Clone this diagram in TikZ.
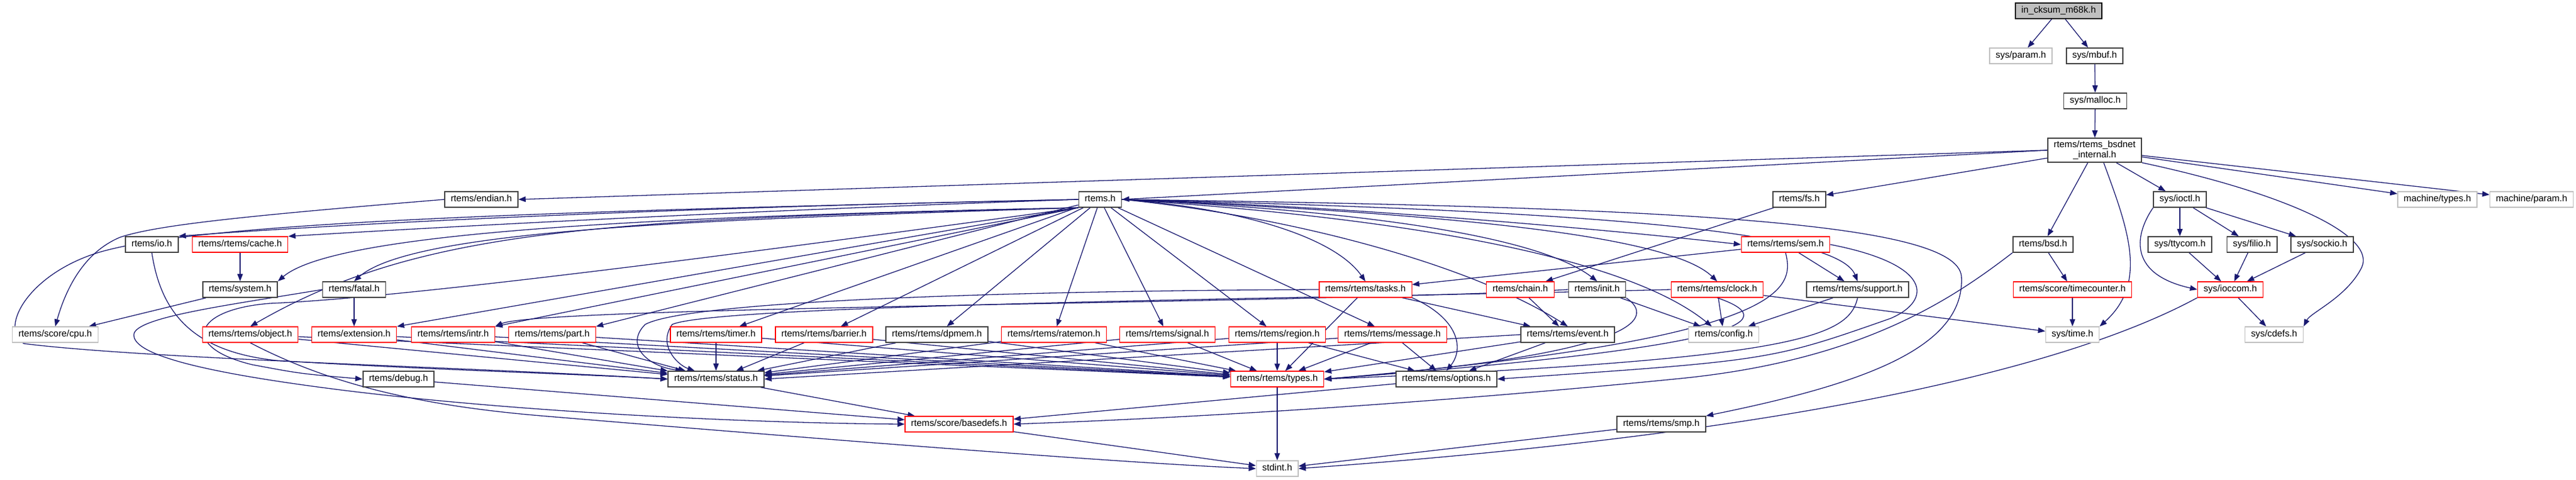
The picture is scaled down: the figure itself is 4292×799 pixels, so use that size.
\documentclass[tikz,border=0pt]{standalone}
\usepackage{fontspec}
\setmainfont{Liberation Sans}
\usetikzlibrary{arrows.meta}
\definecolor{edgec}{HTML}{191970}
\definecolor{grayb}{HTML}{BFBFBF}
\definecolor{darkb}{HTML}{404040}
\pgfdeclarelayer{bg}
\pgfsetlayers{bg,main}
\tikzset{
  box/.style={rectangle, minimum height=26pt, inner xsep=10pt, inner ysep=0pt, fill=white,
    font=\fontsize{15.4}{17}\selectfont, text=black},
  one/.style={text height=11pt, text depth=3.5pt},
  nb/.style={box, one, draw=darkb, line width=1.6pt},
  rd/.style={box, one, draw=red, line width=1.3pt},
  gy/.style={box, one, draw=grayb, line width=1.3pt},
  mainnode/.style={box, one, draw=black, line width=1.6pt, fill=grayb},
  edge/.style={draw=edgec, line width=1.3pt, -{Triangle[length=12pt,width=9pt]}},
}
\begin{document}
\begin{tikzpicture}[x=1pt,y=-1pt]
\useasboundingbox (0,0) rectangle (4292,799);
% ---------- nodes ----------
\node[mainnode] (ick) at (3430,18) {in\_cksum\_m68k.h};
\node[gy] (sparam) at (3367,93) {sys/param.h};
\node[nb] (mbuf) at (3490,93) {sys/mbuf.h};
\node[nb] (malloc) at (3491,168) {sys/malloc.h};
\node[box, draw=darkb, line width=1.6pt, align=center, minimum height=40pt] (bsdnet) at (3490,250) {rtems/rtems\_bsdnet\\\_internal.h};
\node[nb] (endian) at (802,332) {rtems/endian.h};
\node[nb] (rtems) at (1833,332) {rtems.h};
\node[nb] (fs) at (2998,332) {rtems/fs.h};
\node[nb] (ioctl) at (3632,332) {sys/ioctl.h};
\node[gy] (mtypes) at (4061,332) {machine/types.h};
\node[gy] (mparam) at (4218,332) {machine/param.h};
\node[nb] (io) at (253,407) {rtems/io.h};
\node[rd] (cache) at (400,407) {rtems/rtems/cache.h};
\node[rd] (sem) at (2975,407) {rtems/rtems/sem.h};
\node[nb] (bsd) at (3404,407) {rtems/bsd.h};
\node[nb] (ttycom) at (3632,407) {sys/ttycom.h};
\node[nb] (filio) at (3752,407) {sys/filio.h};
\node[nb] (sockio) at (3869,407) {sys/sockio.h};
\node[nb] (system) at (400,482) {rtems/system.h};
\node[nb] (fatal) at (590,482) {rtems/fatal.h};
\node[rd] (tasks) at (2275,482) {rtems/rtems/tasks.h};
\node[rd] (chain) at (2533,482) {rtems/chain.h};
\node[nb] (init) at (2661,482) {rtems/init.h};
\node[rd] (clock) at (2861,482) {rtems/rtems/clock.h};
\node[nb] (support) at (3095,482) {rtems/rtems/support.h};
\node[rd] (tcount) at (3453,482) {rtems/score/timecounter.h};
\node[rd] (ioccom) at (3716,482) {sys/ioccom.h};
\node[gy] (cpu) at (92,557) {rtems/score/cpu.h};
\node[rd] (object) at (417,557) {rtems/rtems/object.h};
\node[rd] (extension) at (590,557) {rtems/extension.h};
\node[rd] (intr) at (755,557) {rtems/rtems/intr.h};
\node[rd] (part) at (920,557) {rtems/rtems/part.h};
\node[rd] (timer) at (1193,557) {rtems/rtems/timer.h};
\node[rd] (barrier) at (1373,557) {rtems/rtems/barrier.h};
\node[nb] (dpmem) at (1561,557) {rtems/rtems/dpmem.h};
\node[rd] (ratemon) at (1756,557) {rtems/rtems/ratemon.h};
\node[rd] (signal) at (1945,557) {rtems/rtems/signal.h};
\node[rd] (region) at (2128,557) {rtems/rtems/region.h};
\node[rd] (message) at (2320,557) {rtems/rtems/message.h};
\node[nb] (event) at (2612,557) {rtems/rtems/event.h};
\node[gy] (config) at (2872,557) {rtems/config.h};
\node[gy] (stime) at (3453,557) {sys/time.h};
\node[gy] (cdefs) at (3789,557) {sys/cdefs.h};
\node[nb] (debug) at (664,631) {rtems/debug.h};
\node[nb] (status) at (1193,631) {rtems/rtems/status.h};
\node[rd] (types) at (2128,631) {rtems/rtems/types.h};
\node[nb] (options) at (2410,631) {rtems/rtems/options.h};
\node[rd] (basedefs) at (1598,706) {rtems/score/basedefs.h};
\node[nb] (smp) at (2768,706) {rtems/rtems/smp.h};
\node[gy] (stdint) at (2128,780) {stdint.h};
% ---------- edges ----------
\begin{pgfonlayer}{bg}
\draw[edge] (ick) -- (sparam);
\draw[edge] (ick) -- (mbuf);
\draw[edge] (mbuf) -- (malloc);
\draw[edge] (malloc) -- (bsdnet);
\draw[edge] (bsdnet.west) -- (endian.east);
\draw[edge] (bsdnet.west) -- (rtems.east);
\draw[edge] (bsdnet) -- (fs);
\draw[edge] (bsdnet) -- (bsd);
\draw[edge] (bsdnet) -- (ioctl);
\draw[edge] (bsdnet) -- (mtypes);
\draw[edge] (bsdnet) -- (mparam);
\draw[edge] ([xshift=15pt]bsdnet.south) .. controls (3545,380) and (3580,470) .. (stime.north east);
\draw[edge] (bsdnet.south east) .. controls (3800,320) and (3960,390) .. (3935,445) .. controls (3910,495) and (3850,520) .. (cdefs.north east);
\draw[edge] (ioctl) -- (ttycom);
\draw[edge] (ioctl) -- (filio);
\draw[edge] (ioctl) -- (sockio);
\draw[edge] (ioctl.south west) .. controls (3560,385) and (3540,455) .. (ioccom.west);
\draw[edge] (ttycom) -- (ioccom);
\draw[edge] (filio) -- (ioccom);
\draw[edge] (sockio) -- (ioccom);
\draw[edge] (ioccom) -- (cdefs);
\draw[edge] (ioccom.south west) .. controls (3450,610) and (3000,720) .. (stdint.east);
\draw[edge] (bsd) -- (tcount);
\draw[edge] (tcount) -- (stime);
\draw[edge] (bsd.south west) .. controls (3250,500) and (3100,600) .. (2800,630) .. controls (2400,670) and (2000,695) .. (basedefs.east);
\draw[edge] (fs) -- (chain);
\draw[edge] (chain) -- (event);
% rtems.h fan
\draw[edge] (rtems.west) .. controls (1000,348) and (500,378) .. (io.north east);
\draw[edge] (rtems.west) .. controls (1200,352) and (700,380) .. (cache.north east);
\draw[edge] (rtems.south west) .. controls (1100,360) and (560,385) .. (system.north east);
\draw[edge] (rtems.south west) .. controls (1200,365) and (690,380) .. (fatal.north);
\draw[edge] (rtems.south west) .. controls (1000,365) and (700,380) .. (object.north);
\draw[edge] (rtems.south west) -- (extension.north east);
\draw[edge] (rtems.south west) -- (intr.north east);
\draw[edge] (rtems) -- (part.north east);
\draw[edge] (rtems) -- (timer);
\draw[edge] (rtems) -- (barrier);
\draw[edge] (rtems) -- (dpmem);
\draw[edge] (rtems) -- (ratemon);
\draw[edge] (rtems) -- (signal);
\draw[edge] (rtems) -- (region);
\draw[edge] (rtems) -- (message);
\draw[edge] (rtems.east) .. controls (2050,345) and (2220,390) .. (tasks.north);
\draw[edge] (rtems.east) .. controls (2150,360) and (2450,440) .. (event.north);
\draw[edge] (rtems.east) .. controls (2250,350) and (2560,390) .. (init.north);
\draw[edge] (rtems.east) .. controls (2400,355) and (2780,390) .. (clock.north);
\draw[edge] (rtems.east) .. controls (2300,360) and (2700,420) .. ([xshift=-20pt]config.north);
\draw[edge] (rtems.east) .. controls (2300,345) and (2750,390) .. (sem.west);
\draw[edge] (rtems.east) .. controls (2600,350) and (3060,380) .. (support.north);
\draw[edge] (rtems.east) .. controls (2800,345) and (3260,370) .. (3268,460) .. controls (3275,580) and (3100,640) .. (smp.north east);
\draw[edge] (rtems.west) .. controls (900,352) and (300,370) .. (150,425) .. controls (40,465) and (0,550) .. (40,572) .. controls (250,598) and (800,612) .. (status.west);
\draw[edge] (rtems.south west) .. controls (1400,400) and (700,495) .. (450,505) .. controls (320,515) and (300,578) .. (420,607) .. controls (500,622) .. (debug.west);
% left side
\draw[edge] (endian.west) .. controls (400,360) and (260,375) .. (200,395) .. controls (140,420) and (110,480) .. (cpu.north);
\draw[edge] (cache) -- (system);
\draw[edge] (system) -- (cpu);
\draw[edge] (fatal) -- (extension);
\draw[edge] (fatal.west) .. controls (380,508) and (225,528) .. (223,557) .. controls (221,592) and (350,622) .. (575,650) .. controls (900,690) and (1300,705) .. (basedefs.west);
\draw[edge] (io.south) .. controls (268,520) and (320,585) .. (460,600) .. controls (700,615) and (950,622) .. (status.west);
\draw[edge] (object) -- (status);
\draw[edge] (object) -- (types);
\draw[edge] (object.south) .. controls (550,640) and (700,675) .. (900,692) .. controls (1500,742) and (1900,772) .. (stdint.west);
\draw[edge] (extension) -- (status);
\draw[edge] (extension) -- (types);
\draw[edge] (intr) -- (status);
\draw[edge] (intr) -- (types);
\draw[edge] (part) -- (status);
\draw[edge] (part) -- (types);
\draw[edge] (timer) -- (status);
\draw[edge] (timer) -- (types);
\draw[edge] (barrier) -- (status);
\draw[edge] (barrier) -- (types);
\draw[edge] (dpmem) -- (status);
\draw[edge] (dpmem) -- (types);
\draw[edge] (ratemon) -- (status);
\draw[edge] (ratemon) -- (types);
\draw[edge] (signal) -- (status);
\draw[edge] (signal) -- (types);
\draw[edge] (region) -- (status);
\draw[edge] (region) -- (types);
\draw[edge] (region) -- (options);
\draw[edge] (message) -- (status);
\draw[edge] (message) -- (types);
\draw[edge] (message) -- (options);
\draw[edge] (event.west) -- (status.east);
\draw[edge] (event) -- (types);
\draw[edge] (event) -- (options);
% tasks, init, clock, sem, support
\draw[edge] (tasks.west) .. controls (1700,484) and (1150,500) .. (1075,540) .. controls (1040,575) and (1080,610) .. ([xshift=25pt]status.north west);
\draw[edge] (tasks) -- (types);
\draw[edge] (tasks) -- (event);
\draw[edge] (tasks.south east) .. controls (2430,530) and (2440,580) .. (options.north);
\draw[edge] (init.west) .. controls (2200,505) and (900,510) .. (intr.north east);
\draw[edge] (init) -- (config);
\draw[edge] (init.south east) .. controls (2760,530) and (2730,590) .. (types.east);
\draw[edge] (clock.west) .. controls (2200,497) and (1200,506) .. (1120,540) .. controls (1095,575) and (1130,608) .. ([xshift=45pt]status.north west);
\draw[edge] (clock) -- (config);
\draw[edge] (clock) -- (stime);
\draw[edge] (clock.south) .. controls (2960,530) and (2950,575) .. (types.east);
\draw[edge] (sem) -- (tasks);
\draw[edge] (sem) -- (support);
\draw[edge] (sem.south) .. controls (2990,480) and (2985,565) .. (types.east);
\draw[edge] (sem.east) .. controls (3220,440) and (3220,500) .. (3150,530) .. controls (2950,600) .. (options.east);
\draw[edge] (support) -- (config);
\draw[edge] (support.south) .. controls (3080,560) and (3000,598) .. (types.east);
% bottom
\draw[edge] (status) -- (basedefs);
\draw[edge] (options) -- (basedefs);
\draw[edge] (debug) -- (basedefs);
\draw[edge] (basedefs) -- (stdint);
\draw[edge] (types) -- (stdint);
\draw[edge] (smp) -- (stdint);
\end{pgfonlayer}
\end{tikzpicture}
\end{document}
